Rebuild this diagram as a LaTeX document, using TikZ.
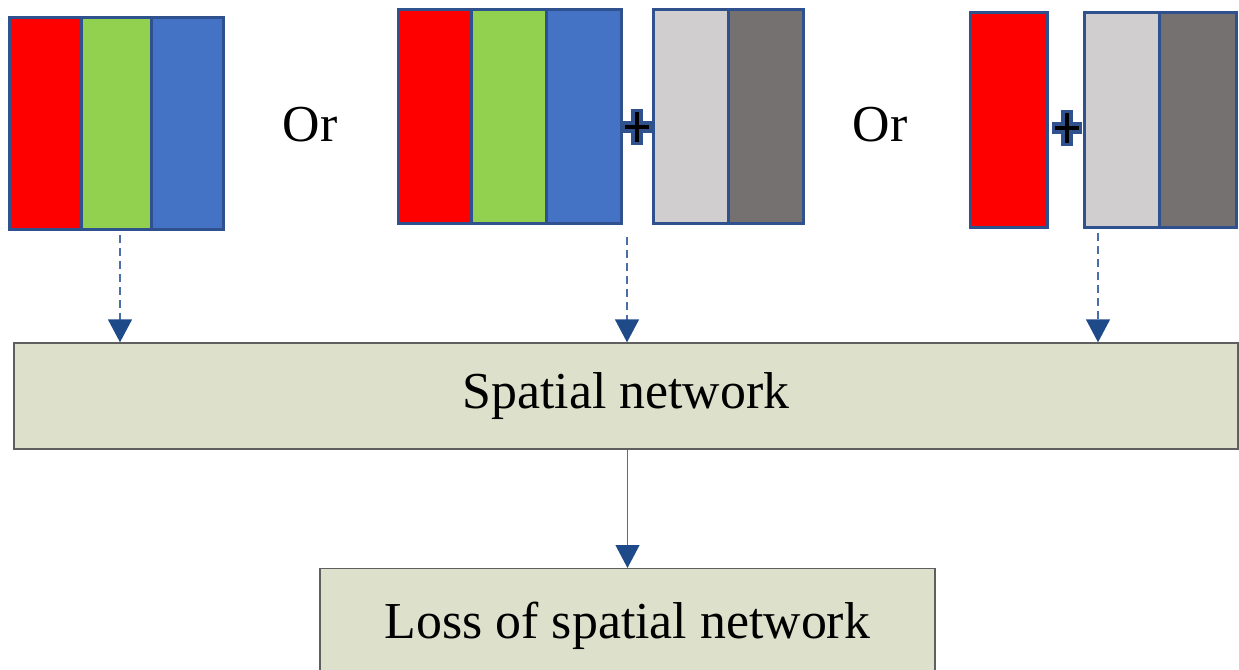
\documentclass[tikz,border=0pt]{standalone}
\usepackage{fontspec}
\setmainfont{Liberation Serif}
\usetikzlibrary{arrows.meta}

\definecolor{rot}{HTML}{FF0000}
\definecolor{gruen}{HTML}{92D050}
\definecolor{blau}{HTML}{4472C4}
\definecolor{hellgrau}{HTML}{D0CECE}
\definecolor{dunkelgrau}{HTML}{767171}
\definecolor{randblau}{HTML}{2F528F}
\definecolor{pfeilblau}{HTML}{1F4A8A}
\definecolor{linienblau}{HTML}{4A6FA8}
\definecolor{boxfill}{HTML}{DDE0CB}
\definecolor{boxrand}{HTML}{5F5F5F}

\tikzset{
    strip/.style={draw=randblau, line width=1.5pt, inner sep=0pt, anchor=north west},
    netbox/.style={draw=boxrand, fill=boxfill, line width=0.8pt, inner sep=0pt,
        font=\fontsize{29.5}{35}\selectfont},
    ortext/.style={font=\fontsize{29.5}{35}\selectfont, inner sep=0pt},
    dasharrow/.style={draw=linienblau, line width=0.85pt, dash pattern=on 0.16cm off 0.1cm,
        -{Triangle[width=0.48cm, length=0.46cm, color=pfeilblau]}},
    solidarrow/.style={draw=linienblau, line width=0.7pt,
        -{Triangle[width=0.48cm, length=0.46cm, color=pfeilblau]}},
    plussign/.pic={
        \draw[randblau, line width=6.8pt] (-15*\s, 0) -- (15*\s, 0) (0, -18*\s) -- (0, 18*\s);
        \draw[black, line width=2.8pt] (-12*\s, 0) -- (12*\s, 0) (0, -15*\s) -- (0, 15*\s);
    }
}

\begin{document}
\begin{tikzpicture}
    % Pixelgröße
    \def\s{0.02cm}

    \useasboundingbox (0,0) rectangle (1239*\s, -669*\s);
    \clip (0,0) rectangle (1239*\s, -669*\s);

    % Farbstreifen (Name/x/y/Breite/Höhe/Farbe)
    \foreach \name/\x/\y/\w/\h/\col in {
            ra/8/16/72/212/rot, ga/80/16/70/212/gruen, ba/150/16/72/212/blau,
            rb/397/8/73/214/rot, gb/470/8/75/214/gruen, bb/545/8/75/214/blau,
            hb/652/8/75/214/hellgrau, db/727/8/75/214/dunkelgrau,
            rc/969/11/77/215/rot, hc/1083/11/75/215/hellgrau, dc/1158/11/77/215/dunkelgrau} {
        \node[strip, fill=\col, minimum width=\w*\s, minimum height=\h*\s] (\name) at (\x*\s, -\y*\s) {};
    }

    % Oder / Plus
    \node[ortext] (or1) at (310*\s, -125*\s) {Or};
    \node[ortext] (or2) at (880*\s, -125*\s) {Or};
    \pic at (637*\s, -127*\s) {plussign};
    \pic at (1067*\s, -128*\s) {plussign};

    % Netzwerk-Kästen
    \node[netbox, minimum width=1224*\s, minimum height=106*\s] (net) at (626*\s, -396*\s) {Spatial network};
    \node[netbox, anchor=north, minimum width=615*\s, minimum height=114*\s] (loss) at (627.5*\s, -568*\s) {Loss of spatial network};

    % Pfeile
    \coordinate (da) at (120*\s, -235*\s);
    \coordinate (db) at (627*\s, -237*\s);
    \coordinate (dc) at (1098*\s, -233*\s);
    \foreach \c in {da,db,dc} {
        \draw[dasharrow] (\c) -- (\c |- net.north);
    }
    \draw[solidarrow] (loss.north |- net.south) -- (loss.north);
\end{tikzpicture}
\end{document}
